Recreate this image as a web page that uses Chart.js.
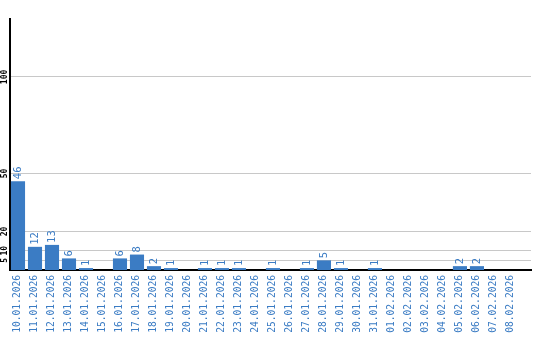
<!DOCTYPE html>
<html>
<head>
<meta charset="utf-8">
<script src="https://cdn.jsdelivr.net/npm/chart.js@4/dist/chart.umd.min.js"></script>
<style>
  html, body { margin: 0; padding: 0; background: #fff; overflow: hidden; }
  canvas { display: block; }
</style>
</head>
<body>
<canvas id="myChart" width="540" height="340"></canvas>
<script>
  var days = ["10.01.2026", "11.01.2026", "12.01.2026", "13.01.2026", "14.01.2026", "15.01.2026",
              "16.01.2026", "17.01.2026", "18.01.2026", "19.01.2026", "20.01.2026", "21.01.2026",
              "22.01.2026", "23.01.2026", "24.01.2026", "25.01.2026", "26.01.2026", "27.01.2026",
              "28.01.2026", "29.01.2026", "30.01.2026", "31.01.2026", "01.02.2026", "02.02.2026",
              "03.02.2026", "04.02.2026", "05.02.2026", "06.02.2026", "07.02.2026", "08.02.2026"];
  var counts = [46, 12, 13, 6, 1, 0, 6, 8, 2, 1, 0, 1, 1, 1, 0, 1, 0, 1, 5, 1, 0, 1, 0, 0, 0, 0, 2, 2, 0, 0];
  var yTicks = [5, 10, 20, 50, 100];
  var yMax = 130;

  var blue = '#3b7cc4';
  var mono = "'DejaVu Sans Mono', monospace";

  // labels over bars, turned like the axis text
  var valueLabels = {
    id: 'valueLabels',
    afterDatasetsDraw: function (chart) {
      var ctx = chart.ctx;
      var meta = chart.getDatasetMeta(0);
      ctx.save();
      ctx.fillStyle = blue;
      ctx.font = '10.5px ' + mono;
      ctx.textAlign = 'left';
      ctx.textBaseline = 'middle';
      meta.data.forEach(function (bar, i) {
        if (!counts[i]) return;
        ctx.save();
        ctx.translate(bar.x, bar.y - 2);
        ctx.rotate(-Math.PI / 2);
        ctx.fillText(String(counts[i]), 0, 0);
        ctx.restore();
      });
      ctx.restore();
    }
  };

  var ctx = document.getElementById('myChart').getContext('2d');
  var chart = new Chart(ctx, {
    type: 'bar',
    data: {
      datasets: [{
        data: counts.map(function (v, i) { return { x: i, y: v }; }),
        backgroundColor: blue,
        borderWidth: 0,
        categoryPercentage: 1,
        barPercentage: 0.83
      }]
    },
    options: {
      responsive: false,
      animation: false,
      layout: { padding: { top: 19, right: 9, left: 0, bottom: 0 } },
      plugins: { legend: { display: false }, tooltip: { enabled: false } },
      scales: {
        x: {
          type: 'linear',
          offset: false,
          min: -8 / 17,
          max: 30.18,
          afterBuildTicks: function (axis) {
            axis.ticks = days.map(function (d, i) { return { value: i }; });
          },
          afterFit: function (axis) {
            axis.height = 70;
            axis.paddingLeft = 0;
            axis.paddingRight = 0;
          },
          grid: { display: false, drawTicks: false, offset: false },
          border: { display: true, color: '#000', width: 2 },
          ticks: {
            autoSkip: false,
            minRotation: 90,
            maxRotation: 90,
            padding: 5,
            color: blue,
            font: { family: mono, size: 9.6 },
            callback: function (v) { return days[v]; }
          }
        },
        y: {
          min: 0,
          max: yMax,
          afterBuildTicks: function (axis) {
            axis.ticks = yTicks.map(function (v) { return { value: v }; });
          },
          afterFit: function (axis) { axis.width = 10; },
          grid: { color: '#c8c8c8', lineWidth: 1, drawTicks: false },
          border: { display: true, color: '#000', width: 2 },
          ticks: {
            minRotation: 90,
            maxRotation: 90,
            crossAlign: 'center',
            padding: -2.5,
            color: '#000',
            font: { family: mono, size: 8, weight: 'bold' }
          }
        }
      }
    },
    plugins: [valueLabels]
  });
</script>
</body>
</html>
